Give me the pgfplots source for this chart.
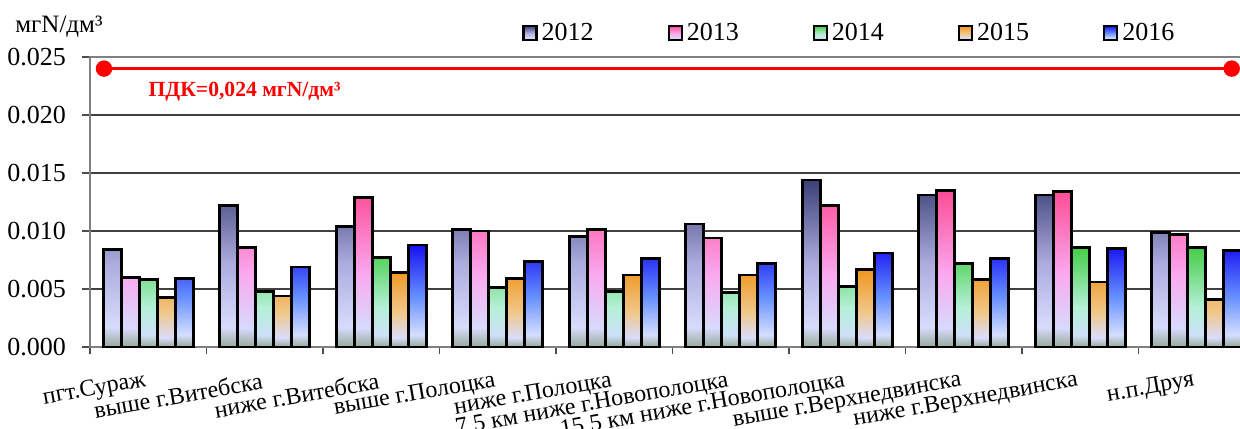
\documentclass[border=0pt]{standalone}
\usepackage{fontspec}
\setmainfont{Liberation Serif}
\usepackage{pgfplots}
\pgfplotsset{compat=1.18}

% bar gradients: grey foot, pale band, dark top
\definecolor{foot}{RGB}{150,170,155}
\definecolor{tA}{RGB}{58,63,118}   \definecolor{mA}{RGB}{172,172,222} \definecolor{pA}{RGB}{215,220,252}
\definecolor{tB}{RGB}{252,76,150}  \definecolor{mB}{RGB}{250,170,240} \definecolor{pB}{RGB}{215,218,252}
\definecolor{tC}{RGB}{68,205,68}   \definecolor{mC}{RGB}{180,240,215} \definecolor{pC}{RGB}{205,225,248}
\definecolor{tD}{RGB}{240,150,30}  \definecolor{mD}{RGB}{240,200,140} \definecolor{pD}{RGB}{218,220,252}
\definecolor{tE}{RGB}{22,16,240}   \definecolor{mE}{RGB}{100,142,255} \definecolor{pE}{RGB}{212,222,255}

\pgfdeclareverticalshading{shA}{100bp}{color(0bp)=(foot); color(25bp)=(foot); color(31bp)=(pA); color(50bp)=(mA); color(75bp)=(tA); color(100bp)=(tA)}
\pgfdeclareverticalshading{shB}{100bp}{color(0bp)=(foot); color(25bp)=(foot); color(31bp)=(pB); color(48bp)=(mB); color(75bp)=(tB); color(100bp)=(tB)}
\pgfdeclareverticalshading{shC}{100bp}{color(0bp)=(foot); color(25bp)=(foot); color(31bp)=(pC); color(45bp)=(mC); color(75bp)=(tC); color(100bp)=(tC)}
\pgfdeclareverticalshading{shD}{100bp}{color(0bp)=(foot); color(25bp)=(foot); color(31bp)=(pD); color(47bp)=(mD); color(75bp)=(tD); color(100bp)=(tD)}
\pgfdeclareverticalshading{shE}{100bp}{color(0bp)=(foot); color(25bp)=(foot); color(31bp)=(pE); color(50bp)=(mE); color(75bp)=(tE); color(100bp)=(tE)}

\begin{document}
\begin{tikzpicture}
\begin{axis}[
    scale only axis,
    width=582.5pt, height=145pt,
    xmin=-0.5, xmax=9.5,
    ymin=0, ymax=0.025,
    ybar=0pt, bar width=9pt,
    xtick={0,...,9},
    xticklabels={пгт.Сураж, выше г.Витебска, ниже г.Витебска, выше г.Полоцка,
        ниже г.Полоцка, {7,5 км ниже г.Новополоцка}, {15,5 км ниже г.Новополоцка},
        выше г.Верхнедвинска, ниже г.Верхнедвинска, н.п.Друя},
    minor xtick={-0.5,0.5,...,9.5},
    major x tick style={draw=none},
    xtick pos=bottom, ytick pos=left,
    tick align=outside,
    major tick length=4pt, minor tick length=3.5pt,
    tick style={black!70, line width=0.6pt},
    ytick={0,0.005,...,0.025},
    scaled y ticks=false,
    yticklabel style={font=\rmfamily\fontsize{13}{13}\selectfont, xshift=-4.5pt,
        /pgf/number format/.cd, fixed, fixed zerofill, precision=3, assume math mode=true},
    xticklabel style={font=\rmfamily\fontsize{12}{12}\selectfont, rotate=10, anchor=east, yshift=-12.5pt},
    ymajorgrids, grid style={black!75, line width=0.6pt},
    axis line style={gray, line width=0.9pt},
    clip=false,
    legend columns=5,
    legend style={draw=none, fill=none, at={(axis description cs:0.3708,1.083)}, anchor=west,
        font=\fontsize{13}{13}\selectfont, inner sep=0pt,
        /tikz/every even column/.append style={column sep=35pt}},
    legend image code/.code={\draw[#1, draw=black, line width=1.1pt] (0pt,-3.5pt) rectangle (6.5pt,3.5pt);},
]
\addplot[draw=black, line width=1.4pt, shading=shA] coordinates {
    (0,0.0084) (1,0.0122) (2,0.0104) (3,0.0101) (4,0.0095)
    (5,0.0106) (6,0.0144) (7,0.0131) (8,0.0131) (9,0.0099)};
\addplot[draw=black, line width=1.4pt, shading=shB] coordinates {
    (0,0.0060) (1,0.0086) (2,0.0129) (3,0.0100) (4,0.0101)
    (5,0.0094) (6,0.0122) (7,0.0135) (8,0.0134) (9,0.0097)};
\addplot[draw=black, line width=1.4pt, shading=shC] coordinates {
    (0,0.0058) (1,0.0048) (2,0.0077) (3,0.0051) (4,0.0048)
    (5,0.0047) (6,0.0052) (7,0.0072) (8,0.0086) (9,0.0086)};
\addplot[draw=black, line width=1.4pt, shading=shD] coordinates {
    (0,0.0043) (1,0.0044) (2,0.0064) (3,0.0059) (4,0.0062)
    (5,0.0062) (6,0.0067) (7,0.0058) (8,0.0056) (9,0.0041)};
\addplot[draw=black, line width=1.4pt, shading=shE] coordinates {
    (0,0.0059) (1,0.0069) (2,0.0088) (3,0.0074) (4,0.0076)
    (5,0.0072) (6,0.0081) (7,0.0076) (8,0.0085) (9,0.0083)};
\legend{2012,2013,2014,2015,2016}

% ПДК line
\addplot[sharp plot, forget plot, red, line width=1.6pt, mark=*, mark size=3.3pt,
    mark options={fill=red, draw=red}] coordinates {(-0.38,0.024) (9.30,0.024)};

\node[anchor=west, inner sep=0pt, yshift=-2pt, text=red, font=\bfseries\fontsize{10.8}{10.8}\selectfont]
    at (axis cs:0,0.02233) {ПДК=0,024 мгN/дм³};
\node[anchor=west, inner sep=0pt, font=\fontsize{12.5}{12.5}\selectfont]
    at ([xshift=-37.5pt, yshift=15pt]rel axis cs:0,1) {мгN/дм³};
\end{axis}
\pgfresetboundingbox
\path[use as bounding box] (-45pt,-40.5pt) rectangle (575pt,173.5pt);
\end{tikzpicture}
\end{document}
